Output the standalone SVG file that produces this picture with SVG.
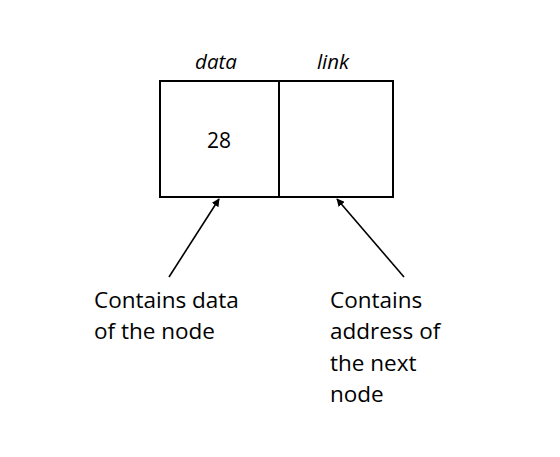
<svg xmlns="http://www.w3.org/2000/svg" width="560" height="457" viewBox="0 0 560 457">
<style>
text{font-family:"Open Sans","Noto Sans",sans-serif;fill:#000}
.lbl{font-size:20.5px;font-style:italic}
.val{font-size:21px}
.txt{font-size:22.5px}
.box{fill:#fff;stroke:#000;stroke-width:2}
.conn{stroke:#000;stroke-width:1.6;fill:none;marker-end:url(#ah)}
</style>
<defs>
<marker id="ah" viewBox="0 0 10 10" refX="9" refY="5" markerWidth="5" markerHeight="5" orient="auto" markerUnits="strokeWidth">
<path d="M0,0 L10,5 L0,10 z" fill="#000"/>
</marker>
</defs>
<rect width="560" height="457" fill="#fff"/>
<g id="node-data">
<rect class="box" x="160" y="81" width="119" height="116"/>
<text class="lbl" x="216" y="69" text-anchor="middle">data</text>
<text class="val" x="219" y="148" text-anchor="middle">28</text>
</g>
<g id="node-link">
<rect class="box" x="279" y="81" width="114" height="116"/>
<text class="lbl" x="333" y="69" text-anchor="middle">link</text>
</g>
<g id="label-data">
<text class="txt" x="94" y="308">Contains data</text>
<text class="txt" x="94" y="339">of the node</text>
</g>
<g id="label-link">
<text class="txt" x="330" y="308">Contains</text>
<text class="txt" x="330" y="339">address of</text>
<text class="txt" x="330" y="371">the next</text>
<text class="txt" x="330" y="402">node</text>
</g>
<g id="connectors">
<line class="conn" x1="169" y1="277" x2="219" y2="199"/>
<line class="conn" x1="404" y1="277" x2="337" y2="199"/>
</g>
</svg>
